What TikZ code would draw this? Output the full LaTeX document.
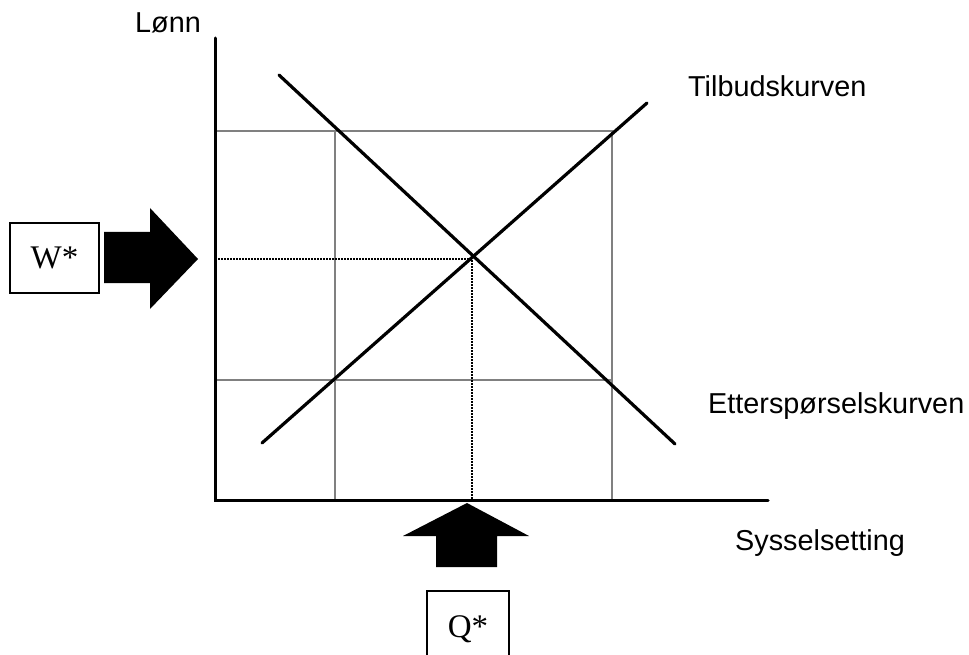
\documentclass[tikz,border=0pt]{standalone}
\usepackage{fontspec}
\setmainfont{Liberation Sans}
\newfontfamily\serifw{Liberation Serif}
\begin{document}
\begin{tikzpicture}[x=1pt,y=-1pt,
  axisline/.style={line width=3pt,line cap=round},
  curveline/.style={line width=3.2pt,line cap=round},
  gridline/.style={line width=1.3pt,draw=black!50},
  dotline/.style={line width=2pt,dash pattern=on 1.5pt off 1.5pt},
  lbl/.style={inner sep=0pt,anchor=base west,font=\fontsize{28.8}{30}\selectfont},
  starbox/.style={draw,line width=1.3pt,inner sep=0pt,font=\serifw\fontsize{33}{34}\selectfont},
  fatarrow/.style={fill=black,draw=none}]
\clip (0,0) rectangle (969,655);
\fill[white] (0,0) rectangle (969,655);
% grid
\coordinate (g1) at (215,131); \coordinate (g2) at (612,131);
\coordinate (g3) at (215,380); \coordinate (g4) at (612,380);
\coordinate (v1t) at (335,131); \coordinate (v1b) at (335,500);
\coordinate (v2b) at (612,500);
\draw[gridline] (g1) -- (g2) -- (v2b);
\draw[gridline] (g3) -- (g4);
\draw[gridline] (v1t) -- (v1b);
% dotted
\coordinate (eq) at (472,259);
\coordinate (eqy) at (218,259);
\coordinate (eqx) at (472,500);
\draw[dotline] (eqy) -- (eq) -- (eqx);
% axes
\coordinate (ytop) at (215,38);
\coordinate (origin) at (215,500);
\coordinate (xend) at (768,500);
\draw[axisline] (ytop) -- (origin) -- (xend);
% curves
\coordinate (d1) at (279,75); \coordinate (d2) at (675,444);
\coordinate (s1) at (262,443); \coordinate (s2) at (647,103);
\draw[curveline] (d1) -- (d2);
\draw[curveline] (s1) -- (s2);
% labels
\node[lbl] (lonn) at (135,33) {Lønn};
\node[lbl] (tilbud) at (688,97) {Tilbudskurven};
\node[lbl] (ettersp) at (708,413) {Etterspørselskurven};
\node[lbl] (syssel) at (735,550) {Sysselsetting};
% W* box and arrow
\node[starbox,minimum width=89pt,minimum height=70pt] (wbox) at (54.5,258) {W*};
\fill[fatarrow] (104,232) -- (150,232) -- (150,208) -- (198,259) -- (150,309) -- (150,283) -- (104,283) -- cycle;
% Q* box and arrow
\node[starbox,minimum width=82pt,minimum height=76pt] (qbox) at (468,629) {\raisebox{-2pt}{Q*}};
\fill[fatarrow] (467,503) -- (529,536) -- (497,536) -- (497,567) -- (436,567) -- (436,536) -- (403,536) -- cycle;
\end{tikzpicture}
\end{document}
